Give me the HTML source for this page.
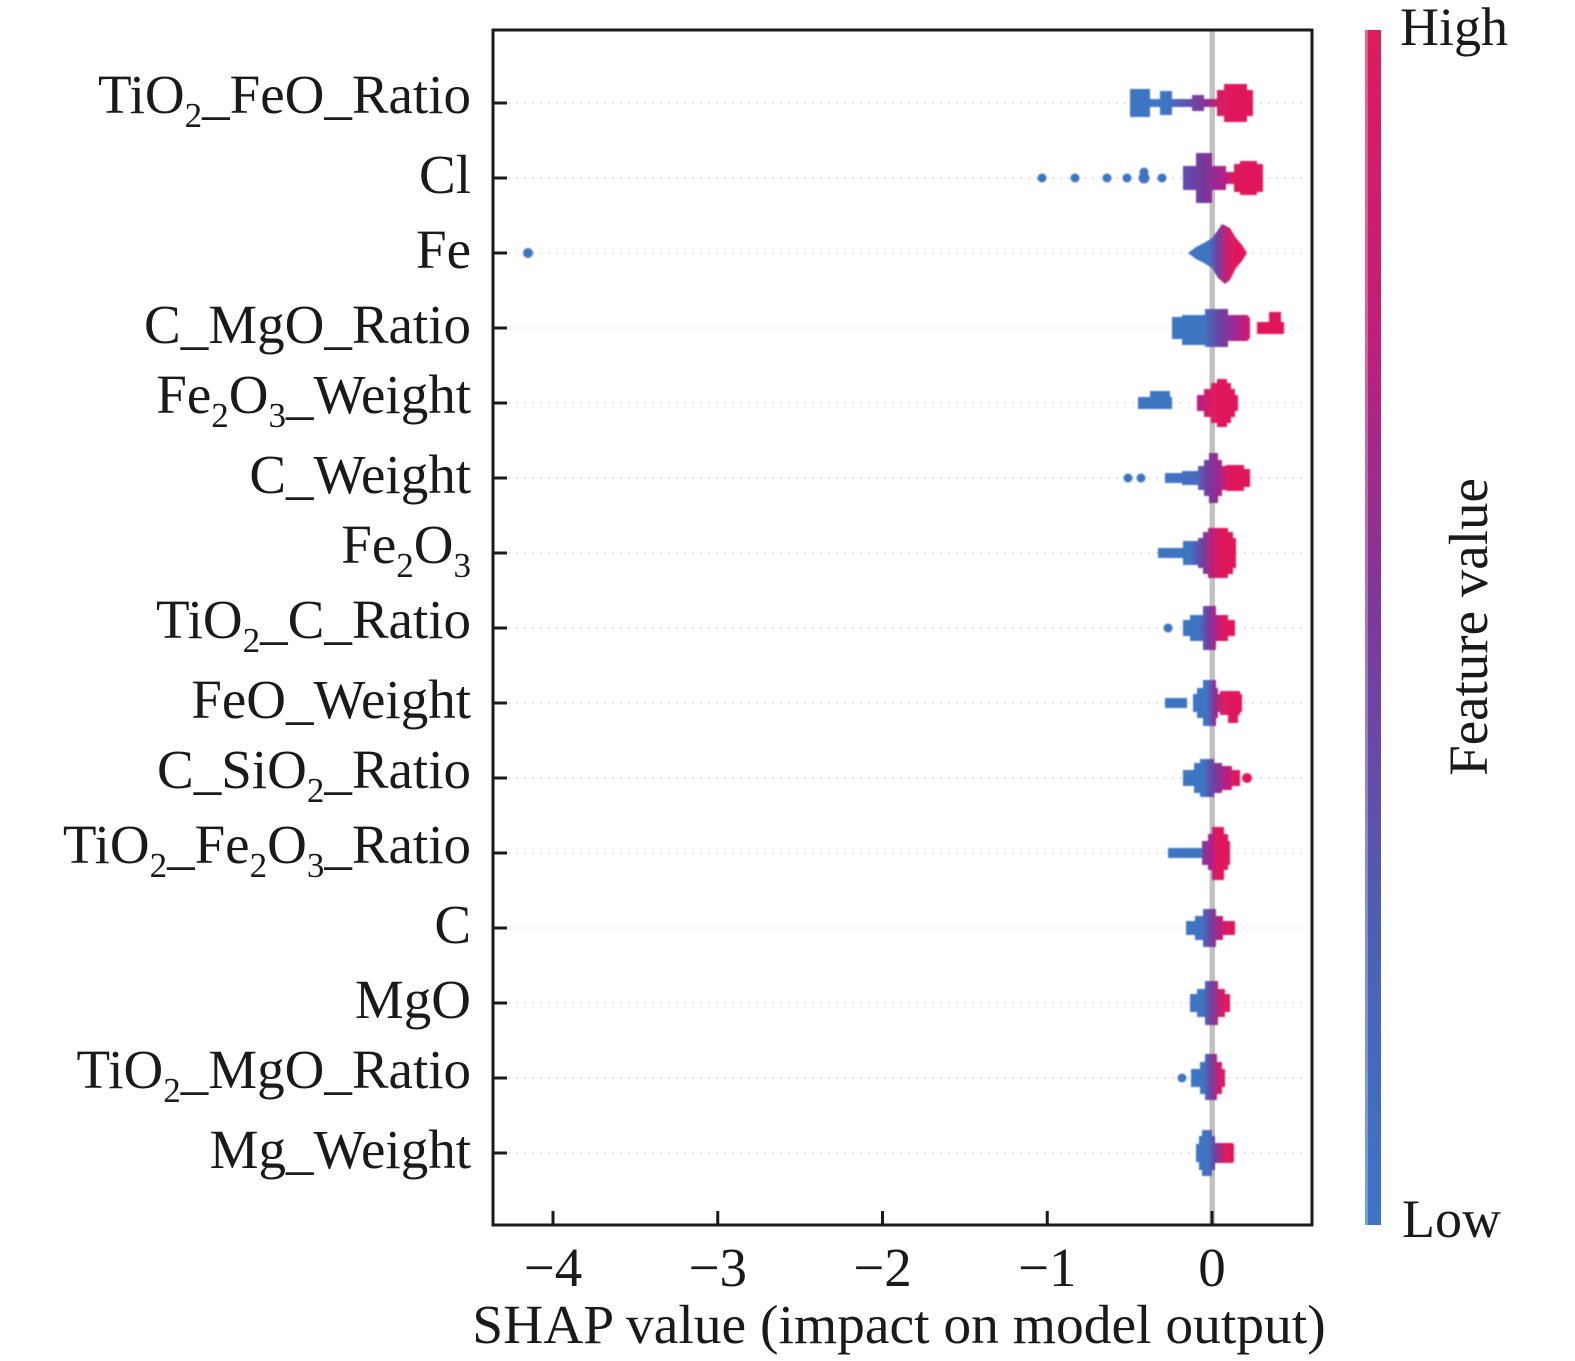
<!DOCTYPE html>
<html>
<head>
<meta charset="utf-8">
<style>
  html, body { margin: 0; padding: 0; background: #ffffff; }
  svg { display: block; }
  text { font-family: "Liberation Serif", "Times New Roman", serif; fill: #1a1a1a; }
</style>
</head>
<body>
<svg width="1575" height="1361" viewBox="0 0 1575 1361" xmlns="http://www.w3.org/2000/svg">
  <defs>
    <filter id="soft" x="-10%" y="-10%" width="120%" height="120%">
      <feGaussianBlur stdDeviation="0.9"/>
    </filter>
    <linearGradient id="cb" x1="0" y1="0" x2="0" y2="1">
      <stop offset="0" stop-color="#dc1c5c"/>
      <stop offset="0.25" stop-color="#c01e78"/>
      <stop offset="0.5" stop-color="#7a3a9c"/>
      <stop offset="0.75" stop-color="#4d5fb4"/>
      <stop offset="1" stop-color="#3e75c3"/>
    </linearGradient>
    <linearGradient id="g0" gradientUnits="userSpaceOnUse" x1="1130" y1="0" x2="1253" y2="0">
      <stop offset="0" stop-color="#3e75c3"/><stop offset="0.30" stop-color="#3e75c3"/>
      <stop offset="0.45" stop-color="#5a55b0"/><stop offset="0.62" stop-color="#8a3096"/>
      <stop offset="0.72" stop-color="#d01c68"/><stop offset="0.8" stop-color="#e0195b"/>
      <stop offset="1" stop-color="#e0195b"/>
    </linearGradient>
    <linearGradient id="g1" gradientUnits="userSpaceOnUse" x1="1180" y1="0" x2="1265" y2="0">
      <stop offset="0" stop-color="#5a50b2"/><stop offset="0.3" stop-color="#7a3598"/>
      <stop offset="0.5" stop-color="#b0208a"/><stop offset="0.65" stop-color="#e0195b"/>
      <stop offset="1" stop-color="#e0195b"/>
    </linearGradient>
    <linearGradient id="g2" gradientUnits="userSpaceOnUse" x1="1188" y1="0" x2="1247" y2="0">
      <stop offset="0" stop-color="#3e75c3"/><stop offset="0.35" stop-color="#3e75c3"/>
      <stop offset="0.5" stop-color="#7040a0"/><stop offset="0.65" stop-color="#c81e72"/>
      <stop offset="0.8" stop-color="#e0195b"/><stop offset="1" stop-color="#e0195b"/>
    </linearGradient>
    <linearGradient id="g3" gradientUnits="userSpaceOnUse" x1="1172" y1="0" x2="1285" y2="0">
      <stop offset="0" stop-color="#3e75c3"/><stop offset="0.28" stop-color="#3e75c3"/>
      <stop offset="0.42" stop-color="#6a42a2"/><stop offset="0.6" stop-color="#b0208a"/>
      <stop offset="0.72" stop-color="#e0195b"/><stop offset="1" stop-color="#e0195b"/>
    </linearGradient>
    <linearGradient id="g4" gradientUnits="userSpaceOnUse" x1="1197" y1="0" x2="1238" y2="0">
      <stop offset="0" stop-color="#b0208a"/><stop offset="0.3" stop-color="#d81b66"/>
      <stop offset="0.5" stop-color="#e0195b"/><stop offset="1" stop-color="#e0195b"/>
    </linearGradient>
    <linearGradient id="g5" gradientUnits="userSpaceOnUse" x1="1165" y1="0" x2="1250" y2="0">
      <stop offset="0" stop-color="#3e75c3"/><stop offset="0.38" stop-color="#4a6abc"/>
      <stop offset="0.48" stop-color="#7040a0"/><stop offset="0.62" stop-color="#9a2892"/>
      <stop offset="0.75" stop-color="#e0195b"/><stop offset="1" stop-color="#e0195b"/>
    </linearGradient>
    <linearGradient id="g6" gradientUnits="userSpaceOnUse" x1="1158" y1="0" x2="1238" y2="0">
      <stop offset="0" stop-color="#3e75c3"/><stop offset="0.4" stop-color="#3e75c3"/>
      <stop offset="0.55" stop-color="#6a42a2"/><stop offset="0.68" stop-color="#c01e78"/>
      <stop offset="0.78" stop-color="#e0195b"/><stop offset="1" stop-color="#e0195b"/>
    </linearGradient>
    <linearGradient id="g7" gradientUnits="userSpaceOnUse" x1="1183" y1="0" x2="1236" y2="0">
      <stop offset="0" stop-color="#3e75c3"/><stop offset="0.3" stop-color="#3e75c3"/>
      <stop offset="0.45" stop-color="#6a42a2"/><stop offset="0.62" stop-color="#b0208a"/>
      <stop offset="0.75" stop-color="#e0195b"/><stop offset="1" stop-color="#e0195b"/>
    </linearGradient>
    <linearGradient id="g8" gradientUnits="userSpaceOnUse" x1="1165" y1="0" x2="1245" y2="0">
      <stop offset="0" stop-color="#3e75c3"/><stop offset="0.52" stop-color="#3e75c3"/>
      <stop offset="0.62" stop-color="#8a3096"/><stop offset="0.72" stop-color="#d81b66"/>
      <stop offset="0.8" stop-color="#e0195b"/><stop offset="1" stop-color="#e0195b"/>
    </linearGradient>
    <linearGradient id="g9" gradientUnits="userSpaceOnUse" x1="1183" y1="0" x2="1250" y2="0">
      <stop offset="0" stop-color="#3e75c3"/><stop offset="0.3" stop-color="#3e75c3"/>
      <stop offset="0.45" stop-color="#6a42a2"/><stop offset="0.62" stop-color="#b0208a"/>
      <stop offset="0.78" stop-color="#e0195b"/><stop offset="1" stop-color="#e0195b"/>
    </linearGradient>
    <linearGradient id="g10" gradientUnits="userSpaceOnUse" x1="1200" y1="0" x2="1232" y2="0">
      <stop offset="0" stop-color="#6a42a2"/><stop offset="0.35" stop-color="#b0208a"/>
      <stop offset="0.55" stop-color="#e0195b"/><stop offset="1" stop-color="#e0195b"/>
    </linearGradient>
    <linearGradient id="g11" gradientUnits="userSpaceOnUse" x1="1186" y1="0" x2="1236" y2="0">
      <stop offset="0" stop-color="#3e75c3"/><stop offset="0.3" stop-color="#3e75c3"/>
      <stop offset="0.5" stop-color="#7040a0"/><stop offset="0.7" stop-color="#c01e78"/>
      <stop offset="0.85" stop-color="#e0195b"/><stop offset="1" stop-color="#e0195b"/>
    </linearGradient>
    <linearGradient id="g12" gradientUnits="userSpaceOnUse" x1="1190" y1="0" x2="1232" y2="0">
      <stop offset="0" stop-color="#3e75c3"/><stop offset="0.3" stop-color="#3e75c3"/>
      <stop offset="0.5" stop-color="#7040a0"/><stop offset="0.75" stop-color="#d01c6a"/>
      <stop offset="0.9" stop-color="#e0195b"/><stop offset="1" stop-color="#e0195b"/>
    </linearGradient>
    <linearGradient id="g13" gradientUnits="userSpaceOnUse" x1="1190" y1="0" x2="1228" y2="0">
      <stop offset="0" stop-color="#3e75c3"/><stop offset="0.35" stop-color="#3e75c3"/>
      <stop offset="0.55" stop-color="#7040a0"/><stop offset="0.75" stop-color="#c81e70"/>
      <stop offset="0.9" stop-color="#e0195b"/><stop offset="1" stop-color="#e0195b"/>
    </linearGradient>
    <linearGradient id="g14" gradientUnits="userSpaceOnUse" x1="1196" y1="0" x2="1235" y2="0">
      <stop offset="0" stop-color="#3e75c3"/><stop offset="0.3" stop-color="#3e75c3"/>
      <stop offset="0.5" stop-color="#7040a0"/><stop offset="0.7" stop-color="#d01c6a"/>
      <stop offset="0.85" stop-color="#e0195b"/><stop offset="1" stop-color="#e0195b"/>
    </linearGradient>
  </defs>

  <rect x="0" y="0" width="1575" height="1361" fill="#ffffff"/>

  <!-- dotted row guide lines -->
  <g stroke="#cfcfcf" stroke-width="2" stroke-dasharray="2 6" opacity="0.55">
    <line x1="500" y1="103" x2="1305" y2="103"/>
    <line x1="500" y1="178" x2="1305" y2="178"/>
    <line x1="500" y1="253" x2="1305" y2="253"/>
    <line x1="500" y1="328" x2="1305" y2="328"/>
    <line x1="500" y1="403" x2="1305" y2="403"/>
    <line x1="500" y1="478" x2="1305" y2="478"/>
    <line x1="500" y1="553" x2="1305" y2="553"/>
    <line x1="500" y1="628" x2="1305" y2="628"/>
    <line x1="500" y1="703" x2="1305" y2="703"/>
    <line x1="500" y1="778" x2="1305" y2="778"/>
    <line x1="500" y1="853" x2="1305" y2="853"/>
    <line x1="500" y1="928" x2="1305" y2="928"/>
    <line x1="500" y1="1003" x2="1305" y2="1003"/>
    <line x1="500" y1="1078" x2="1305" y2="1078"/>
    <line x1="500" y1="1153" x2="1305" y2="1153"/>
  </g>

  <!-- zero line -->
  <rect x="1209.5" y="30" width="5.5" height="1194" fill="#c2c2c2"/>

  <!-- swarms -->
  <g filter="url(#soft)">
    <!-- row 0 -->
    <g fill="url(#g0)">
      <rect x="1130" y="89" width="20" height="28"/>
      <rect x="1130" y="99" width="122" height="8"/>
      <rect x="1160" y="91" width="12" height="24"/>
      <rect x="1192" y="95" width="12" height="16"/>
      <rect x="1217" y="90" width="36" height="26"/>
      <rect x="1224" y="84" width="23" height="38"/>
    </g>
    <!-- row 1 -->
    <g fill="#3e75c3">
      <circle cx="1042" cy="178" r="4.5"/>
      <circle cx="1075" cy="178" r="4.5"/>
      <circle cx="1107" cy="178" r="4.5"/>
      <circle cx="1127" cy="178" r="4.5"/>
      <circle cx="1144" cy="178" r="5.5"/>
      <circle cx="1144" cy="172" r="4.5"/>
      <circle cx="1162" cy="178" r="4.5"/>
    </g>
    <g fill="url(#g1)">
      <rect x="1183" y="166" width="43" height="24"/>
      <rect x="1196" y="153" width="16" height="50"/>
      <rect x="1222" y="172" width="18" height="12"/>
      <rect x="1234" y="164" width="29" height="28"/>
      <rect x="1240" y="161" width="17" height="34"/>
    </g>
    <!-- row 2 -->
    <circle cx="528" cy="253" r="5" fill="#3e75c3"/>
    <polygon fill="url(#g2)" points="1188,253 1196,247 1204,243 1212,238 1218,230 1222,224 1230,228 1236,238 1242,245 1247,253 1242,261 1236,268 1230,280 1225,284 1218,278 1212,268 1204,263 1196,259"/>
    <!-- row 3 -->
    <g fill="url(#g3)">
      <rect x="1172" y="317" width="78" height="22"/>
      <rect x="1182" y="315" width="23" height="30"/>
      <rect x="1205" y="309" width="23" height="38"/>
      <rect x="1228" y="315" width="20" height="26"/>
      <rect x="1257" y="322" width="27" height="12"/>
      <rect x="1269" y="312" width="12" height="16"/>
    </g>
    <!-- row 4 -->
    <g fill="#3e75c3">
      <rect x="1138" y="397" width="34" height="12"/>
      <rect x="1150" y="391" width="20" height="10"/>
    </g>
    <g fill="url(#g4)">
      <rect x="1197" y="395" width="41" height="16"/>
      <rect x="1204" y="389" width="31" height="28"/>
      <rect x="1211" y="383" width="20" height="40"/>
      <rect x="1217" y="379" width="10" height="48"/>
    </g>
    <!-- row 5 -->
    <g fill="#3e75c3">
      <circle cx="1128" cy="478" r="4.5"/>
      <circle cx="1141" cy="478" r="4.5"/>
    </g>
    <g fill="url(#g5)">
      <rect x="1165" y="473" width="35" height="10"/>
      <rect x="1182" y="471" width="16" height="14"/>
      <rect x="1198" y="466" width="34" height="24"/>
      <rect x="1204" y="460" width="18" height="36"/>
      <rect x="1209" y="453" width="9" height="50"/>
      <rect x="1222" y="469" width="28" height="18"/>
      <rect x="1226" y="465" width="18" height="26"/>
    </g>
    <!-- row 6 -->
    <g fill="url(#g6)">
      <rect x="1158" y="548" width="42" height="10"/>
      <rect x="1183" y="541" width="17" height="24"/>
      <rect x="1198" y="538" width="38" height="30"/>
      <rect x="1203" y="532" width="30" height="42"/>
      <rect x="1208" y="528" width="20" height="50"/>
    </g>
    <!-- row 7 -->
    <circle cx="1168" cy="628" r="4.5" fill="#3e75c3"/>
    <g fill="url(#g7)">
      <rect x="1183" y="620" width="52" height="16"/>
      <rect x="1190" y="615" width="38" height="26"/>
      <rect x="1203" y="606" width="13" height="44"/>
    </g>
    <!-- row 8 -->
    <g fill="url(#g8)">
      <rect x="1165" y="698" width="22" height="10"/>
      <rect x="1193" y="694" width="49" height="18"/>
      <rect x="1197" y="688" width="21" height="30"/>
      <rect x="1203" y="680" width="13" height="46"/>
      <rect x="1220" y="691" width="20" height="24"/>
      <rect x="1228" y="703" width="10" height="20"/>
    </g>
    <!-- row 9 -->
    <g fill="url(#g9)">
      <rect x="1183" y="770" width="57" height="16"/>
      <rect x="1194" y="763" width="28" height="30"/>
      <rect x="1200" y="759" width="14" height="38"/>
      <rect x="1214" y="766" width="18" height="24"/>
    </g>
    <circle cx="1247" cy="778" r="5" fill="#e0195b"/>
    <!-- row 10 -->
    <rect x="1168" y="848" width="40" height="10" fill="#3e75c3"/>
    <g fill="url(#g10)">
      <rect x="1202" y="841" width="28" height="24"/>
      <rect x="1208" y="834" width="20" height="36"/>
      <rect x="1212" y="827" width="12" height="53"/>
    </g>
    <!-- row 11 -->
    <g fill="url(#g11)">
      <rect x="1186" y="921" width="49" height="14"/>
      <rect x="1195" y="916" width="28" height="24"/>
      <rect x="1203" y="909" width="13" height="38"/>
    </g>
    <!-- row 12 -->
    <g fill="url(#g12)">
      <rect x="1190" y="994" width="40" height="18"/>
      <rect x="1197" y="989" width="28" height="28"/>
      <rect x="1205" y="981" width="13" height="44"/>
    </g>
    <!-- row 13 -->
    <circle cx="1182" cy="1078" r="4.5" fill="#3e75c3"/>
    <g fill="url(#g13)">
      <rect x="1191" y="1069" width="34" height="18"/>
      <rect x="1200" y="1062" width="22" height="32"/>
      <rect x="1205" y="1054" width="12" height="46"/>
    </g>
    <!-- row 14 -->
    <g fill="url(#g14)">
      <rect x="1196" y="1144" width="38" height="18"/>
      <rect x="1199" y="1136" width="16" height="34"/>
      <rect x="1202" y="1130" width="10" height="46"/>
      <rect x="1215" y="1143" width="18" height="20"/>
    </g>
  </g>

  <!-- frame -->
  <rect x="493" y="30" width="819" height="1195" fill="none" stroke="#1a1a1a" stroke-width="3"/>

  <!-- ticks -->
  <g stroke="#1a1a1a" stroke-width="3">
    <line x1="493" y1="103" x2="507" y2="103"/>
    <line x1="493" y1="178" x2="507" y2="178"/>
    <line x1="493" y1="253" x2="507" y2="253"/>
    <line x1="493" y1="328" x2="507" y2="328"/>
    <line x1="493" y1="403" x2="507" y2="403"/>
    <line x1="493" y1="478" x2="507" y2="478"/>
    <line x1="493" y1="553" x2="507" y2="553"/>
    <line x1="493" y1="628" x2="507" y2="628"/>
    <line x1="493" y1="703" x2="507" y2="703"/>
    <line x1="493" y1="778" x2="507" y2="778"/>
    <line x1="493" y1="853" x2="507" y2="853"/>
    <line x1="493" y1="928" x2="507" y2="928"/>
    <line x1="493" y1="1003" x2="507" y2="1003"/>
    <line x1="493" y1="1078" x2="507" y2="1078"/>
    <line x1="493" y1="1153" x2="507" y2="1153"/>
    <line x1="553" y1="1225" x2="553" y2="1211"/>
    <line x1="717.75" y1="1225" x2="717.75" y2="1211"/>
    <line x1="882.5" y1="1225" x2="882.5" y2="1211"/>
    <line x1="1047.25" y1="1225" x2="1047.25" y2="1211"/>
    <line x1="1212" y1="1225" x2="1212" y2="1211"/>
  </g>

  <!-- y labels -->
  <g font-size="55" text-anchor="end">
    <text x="471" y="113">TiO<tspan font-size="35" dy="14">2</tspan><tspan dy="-14">_FeO_Ratio</tspan></text>
    <text x="471" y="193">Cl</text>
    <text x="471" y="268">Fe</text>
    <text x="471" y="343">C_MgO_Ratio</text>
    <text x="471" y="413">Fe<tspan font-size="35" dy="14">2</tspan><tspan dy="-14">O</tspan><tspan font-size="35" dy="14">3</tspan><tspan dy="-14">_Weight</tspan></text>
    <text x="471" y="493">C_Weight</text>
    <text x="471" y="563">Fe<tspan font-size="35" dy="14">2</tspan><tspan dy="-14">O</tspan><tspan font-size="35" dy="14">3</tspan></text>
    <text x="471" y="638">TiO<tspan font-size="35" dy="14">2</tspan><tspan dy="-14">_C_Ratio</tspan></text>
    <text x="471" y="718">FeO_Weight</text>
    <text x="471" y="788">C_SiO<tspan font-size="35" dy="14">2</tspan><tspan dy="-14">_Ratio</tspan></text>
    <text x="471" y="863">TiO<tspan font-size="35" dy="14">2</tspan><tspan dy="-14">_Fe</tspan><tspan font-size="35" dy="14">2</tspan><tspan dy="-14">O</tspan><tspan font-size="35" dy="14">3</tspan><tspan dy="-14">_Ratio</tspan></text>
    <text x="471" y="943">C</text>
    <text x="471" y="1018">MgO</text>
    <text x="471" y="1088">TiO<tspan font-size="35" dy="14">2</tspan><tspan dy="-14">_MgO_Ratio</tspan></text>
    <text x="471" y="1168">Mg_Weight</text>
  </g>

  <!-- x tick labels -->
  <g font-size="55" text-anchor="middle">
    <text x="553" y="1286">−4</text>
    <text x="717.75" y="1286">−3</text>
    <text x="882.5" y="1286">−2</text>
    <text x="1047.25" y="1286">−1</text>
    <text x="1212" y="1286">0</text>
  </g>

  <!-- x axis label -->
  <text x="899" y="1343" font-size="55.5" text-anchor="middle">SHAP value (impact on model output)</text>

  <!-- colorbar -->
  <rect x="1365" y="30" width="16" height="1195" fill="url(#cb)"/>
  <rect x="1365" y="30" width="3" height="1195" fill="#ffffff" opacity="0.3"/>
  <text x="1400" y="45" font-size="54">High</text>
  <text x="1402" y="1237" font-size="54">Low</text>
  <text x="0" y="0" font-size="55" text-anchor="middle" transform="translate(1487,627) rotate(-90)">Feature value</text>
</svg>
</body>
</html>
